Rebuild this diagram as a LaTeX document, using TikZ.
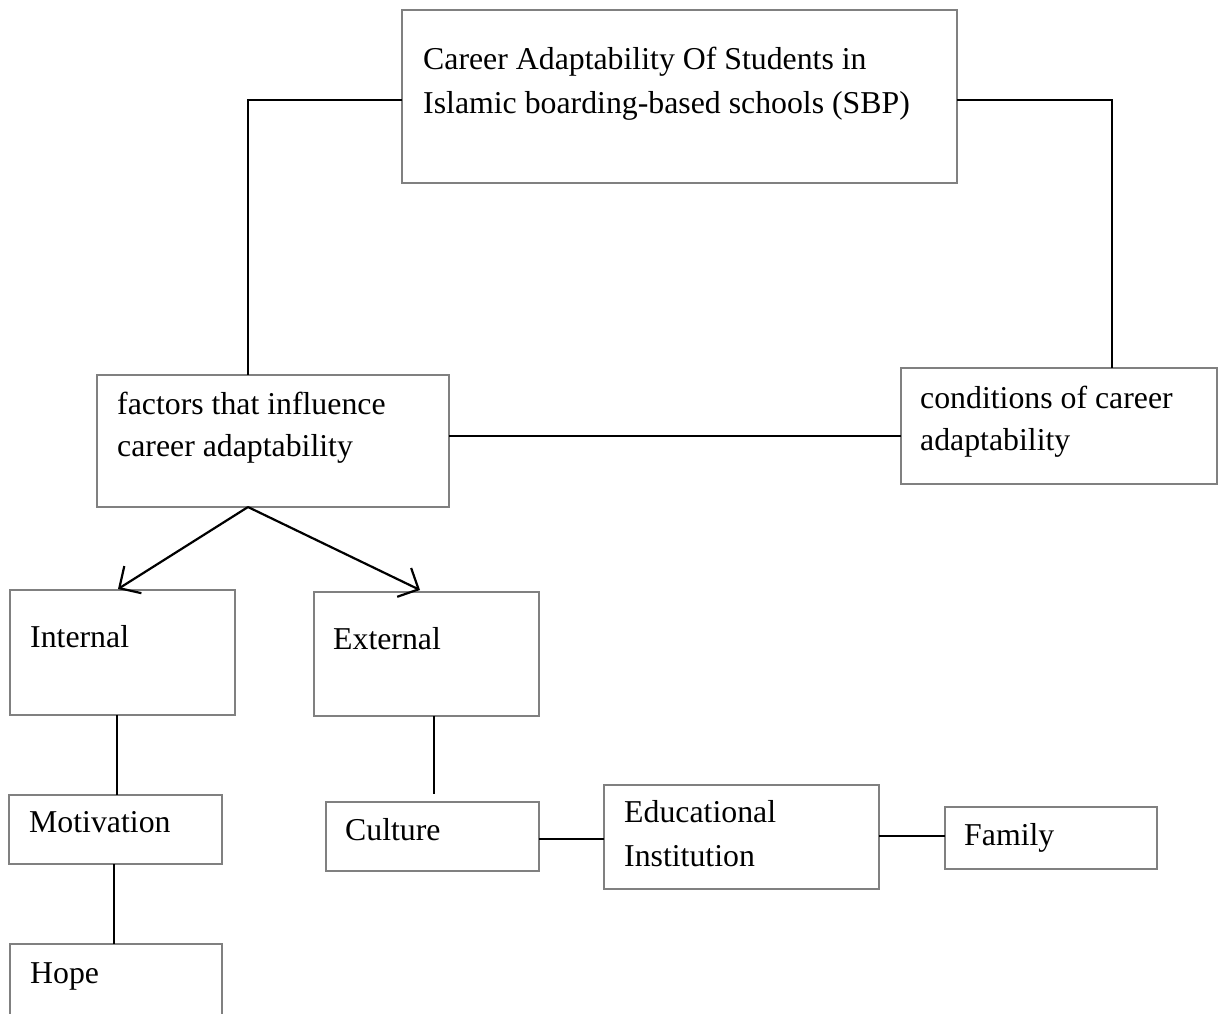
\documentclass[tikz,border=0pt]{standalone}
\usepackage{fontspec}
\setmainfont{Liberation Serif}
\usetikzlibrary{calc,arrows.meta}
\definecolor{boxgray}{RGB}{128,128,128}
\tikzset{
  box/.style={draw=boxgray, line width=1.3pt, rectangle, inner sep=0pt, outer sep=0pt, anchor=north west},
  txt/.style={inner sep=0pt, anchor=base west, font=\fontsize{31.8}{44}\selectfont, text=black},
  conn/.style={draw=black, line width=1.1pt},
  arr/.style={draw=black, line width=2.2pt, -{Straight Barb[length=16pt,width=32pt,line width=2.2pt]}}
}
\begin{document}
\begin{tikzpicture}[x=1pt,y=-1pt]
\clip (0,0) rectangle (1221,1013);
\fill[white] (0,0) rectangle (1221,1013);
% boxes
\node[box, minimum width=555pt, minimum height=173pt] (top) at (402,10) {};
\node[box, minimum width=352pt, minimum height=132pt] (fac) at (97,375) {};
\node[box, minimum width=316pt, minimum height=116pt] (cond) at (901,368) {};
\node[box, minimum width=225pt, minimum height=125pt] (int) at (10,590) {};
\node[box, minimum width=225pt, minimum height=124pt] (ext) at (314,592) {};
\node[box, minimum width=213pt, minimum height=69pt] (mot) at (9,795) {};
\node[box, minimum width=212pt, minimum height=100pt] (hope) at (10,944) {};
\node[box, minimum width=213pt, minimum height=69pt] (cul) at (326,802) {};
\node[box, minimum width=275pt, minimum height=104pt] (edu) at (604,785) {};
\node[box, minimum width=212pt, minimum height=62pt] (fam) at (945,807) {};
% texts
\node[txt] (t1) at (423,69) {Career Adaptability Of Students in};
\node[txt] (t2) at (423,113) {Islamic boarding-based schools (SBP)};
\node[txt] (f1) at (117,414) {factors that influence};
\node[txt] (f2) at (117,456) {career adaptability};
\node[txt] (c1) at (920,408) {conditions of career};
\node[txt] (c2) at (920,450) {adaptability};
\node[txt] (ti) at (30,647) {Internal};
\node[txt] (te) at (333,649) {External};
\node[txt] (tm) at (29,832) {Motivation};
\node[txt] (th) at (30,983) {Hope};
\node[txt] (tc) at (345,840) {Culture};
\node[txt] (te1) at (624,822) {Educational};
\node[txt] (te2) at (624,866) {Institution};
\node[txt] (tf) at (964,845) {Family};
% connectors
\draw[conn] ($(top.north west)+(0,90)$) -| ($(fac.north west)+(151,0)$);
\draw[conn] ($(top.north east)+(0,90)$) -| ($(cond.north west)+(211,0)$);
\draw[conn] ($(fac.north east)+(0,61)$) -- ($(cond.north west)+(0,68)$);
\draw[arr] ($(fac.south west)+(151,0)$) -- ($(int.north west)+(108,-1)$);
\draw[arr] ($(fac.south west)+(151,0)$) -- ($(ext.north west)+(106,-2)$);
\draw[conn] ($(int.south west)+(107,0)$) -- ($(mot.north west)+(108,0)$);
\draw[conn] ($(mot.south west)+(105,0)$) -- ($(hope.north west)+(104,0)$);
\draw[conn] ($(ext.south west)+(120,0)$) -- ($(cul.north west)+(108,-8)$);
\draw[conn] ($(cul.north east)+(0,37)$) -- ($(edu.north west)+(0,54)$);
\draw[conn] ($(edu.north east)+(0,51)$) -- ($(fam.north west)+(0,29)$);
\end{tikzpicture}
\end{document}
